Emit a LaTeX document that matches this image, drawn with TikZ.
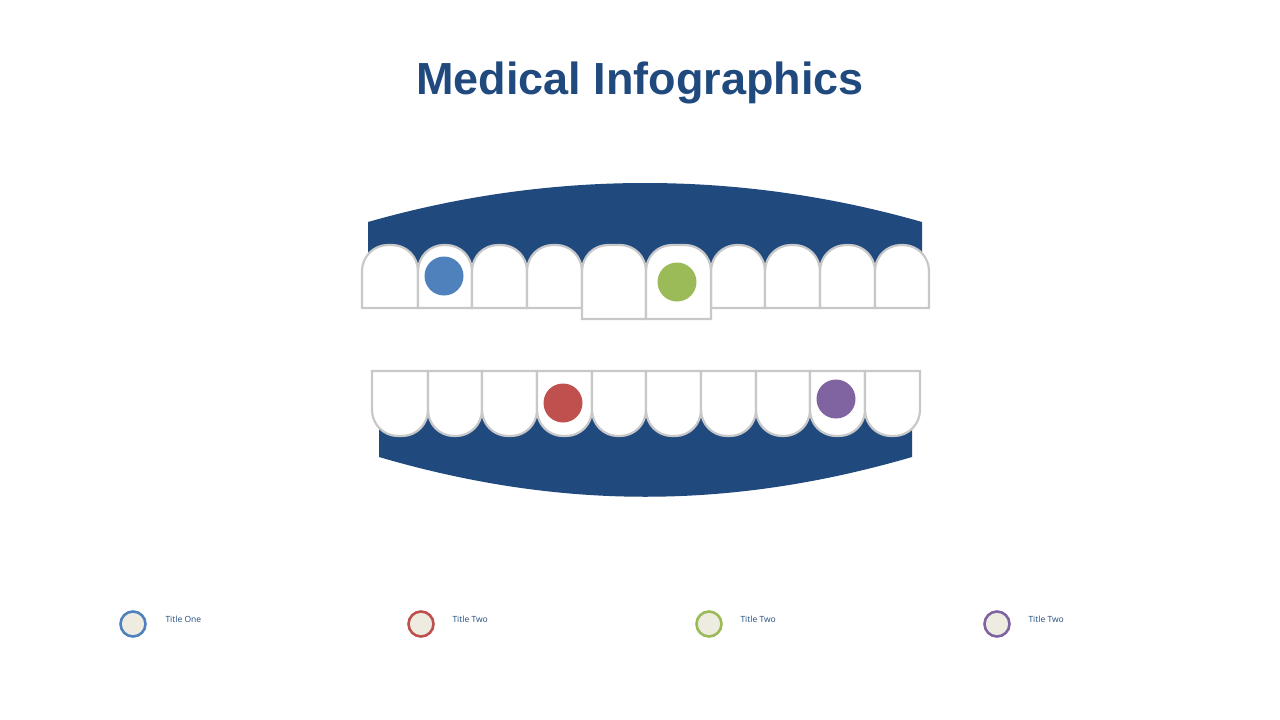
\documentclass[tikz,border=0pt]{standalone}
\usepackage{fontspec}
\setmainfont{Liberation Sans}
\newfontfamily\legendfont{Open Sans}
\definecolor{gumblue}{HTML}{204A7E}
\definecolor{toothgray}{HTML}{C8C8C8}
\definecolor{dotblue}{HTML}{4F81BD}
\definecolor{dotred}{HTML}{C0504D}
\definecolor{dotgreen}{HTML}{9BBB59}
\definecolor{dotpurple}{HTML}{8064A2}
\definecolor{legendfill}{HTML}{EEECE1}
\newcommand{\uppertooth}[3]{% x1, x2, bottom
  \draw[tooth] (#1,#3) [rounded corners=26pt] -- (#1,245) -- (#2,245) [sharp corners] -- (#2,#3) -- cycle;}
\newcommand{\lowertooth}[2]{% x1, x2
  \draw[tooth] (#1,371) [rounded corners=26pt] -- (#1,436) -- (#2,436) [sharp corners] -- (#2,371) -- cycle;}
\begin{document}
\begin{tikzpicture}[x=1pt,y=-1pt,
  tooth/.style={draw=toothgray, fill=white, line width=2.2pt},
  dot/.style={circle, minimum size=39pt, inner sep=0pt},
  legend/.style={circle, draw=#1, fill=legendfill, line width=2.6pt, minimum size=25pt, inner sep=0pt},
  label/.style={anchor=west, text=gumblue, font=\legendfont\fontsize{8.5}{10}\selectfont}]
  \useasboundingbox (0,0) rectangle (1280,720);
  \node[text=gumblue, font=\bfseries\fontsize{45}{50}\selectfont] (title) at (640,83) {Medical Infographics};
  % gums
  \fill[gumblue] (368,290) -- (368,222) .. controls (550,170) and (740,170) .. (922,222) -- (922,290) -- cycle;
  \fill[gumblue] (379,400) -- (379,457) .. controls (560,510) and (730,510) .. (912,457) -- (912,400) -- cycle;
  % upper teeth
  \foreach \a/\b in {362/418,418/472,472/527,527/582,711/765,765/820,820/875,875/929}
    {\uppertooth{\a}{\b}{308}}
  \uppertooth{582}{646}{319}
  \uppertooth{646}{711}{319}
  % lower teeth
  \foreach \a/\b in {372/428,428/482,482/537,537/592,592/646,646/701,701/756,756/810,810/865,865/920}
    {\lowertooth{\a}{\b}}
  % dots
  \node[dot, fill=dotblue] (d1) at (444,276) {};
  \node[dot, fill=dotgreen] (d2) at (677,282) {};
  \node[dot, fill=dotred] (d3) at (563,403) {};
  \node[dot, fill=dotpurple] (d4) at (836,399) {};
  % legend
  \node[legend=dotblue] (l1) at (133,624) {};
  \node[label] (t1) at (162,619) {Title One};
  \node[legend=dotred] (l2) at (421,624) {};
  \node[label] (t2) at (449,619) {Title Two};
  \node[legend=dotgreen] (l3) at (709,624) {};
  \node[label] (t3) at (737,619) {Title Two};
  \node[legend=dotpurple] (l4) at (997,624) {};
  \node[label] (t4) at (1025,619) {Title Two};
\end{tikzpicture}
\end{document}
